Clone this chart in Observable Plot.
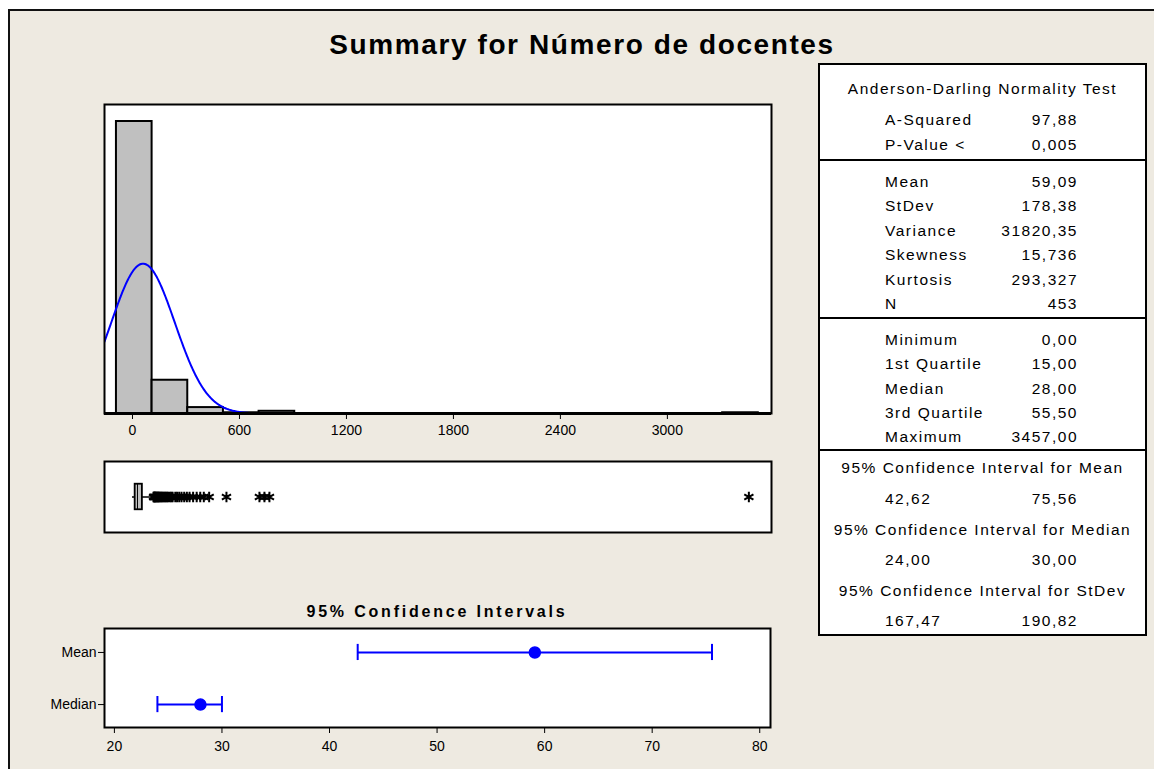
<!DOCTYPE html>
<html><head><meta charset="utf-8">
<script src="https://cdn.jsdelivr.net/npm/d3@7"></script>
<script src="https://cdn.jsdelivr.net/npm/@observablehq/plot@0.6"></script>
<style>
body{margin:0;background:#fff;width:1154px;height:769px;overflow:hidden;position:relative;font-family:"Liberation Sans",Arial,sans-serif;color:#000;}
#page{position:absolute;left:8px;top:9px;width:1146px;height:760px;background:#EEEAE1;border-left:2px solid #111;border-top:2px solid #111;box-sizing:border-box;}
.abs{position:absolute;}
#title{left:0;width:1164px;top:30px;line-height:30px;text-align:center;font-weight:bold;font-size:28px;letter-spacing:1.6px;}
#ciTitle{left:104px;width:666px;top:602px;line-height:20px;text-align:center;font-weight:bold;font-size:16px;letter-spacing:2.8px;}
#table{left:818px;top:63px;width:329px;height:573px;border:2px solid #000;background:#fff;box-sizing:border-box;font-size:15.5px;letter-spacing:1.5px;}
#table div{position:absolute;line-height:20px;white-space:nowrap;}
#table .sep{height:0;border-top:2px solid #000;left:0;right:0;}
</style>
</head><body>
<div id="page"></div>
<div id="title" class="abs">Summary for Número de docentes</div>
<div id="hist" class="abs" style="left:0;top:95px"></div>
<div id="box" class="abs" style="left:0;top:455px"></div>
<div id="ciTitle" class="abs">95% Confidence Intervals</div>
<div id="ci" class="abs" style="left:0;top:590px"></div>
<div id="table" class="abs"></div>
<script>
// ---------- data ----------
const binStart = [-90, 110, 310, 510, 710, 3310];
const binEnd   = [110, 310, 510, 710, 910, 3510];
const binCount = [395, 45, 8, 1, 3, 1];
const histTicks = [0, 600, 1200, 1800, 2400, 3000];

const statN = 453, statMean = 59.09, statSd = 178.38, binWidth = 200;

const boxMin = 0, boxQ1 = 15, boxMedian = 28, boxQ3 = 55.5, boxWhiskerHigh = 115;
const outliers = [118,120,122,125,127,130,133,136,140,143,147,150,155,160,165,170,176,182,188,195,200,210,218,225,240,250,262,275,290,305,320,340,360,380,400,430,527,712,740,768,3457];

const ciRows = ["Mean", "Median"];
const ciCenter = [59.09, 28.00];
const ciLow = [42.62, 24.00];
const ciHigh = [75.56, 30.00];
const ciTicks = [20, 30, 40, 50, 60, 70, 80];

const adLabels = ["A-Squared", "P-Value <"];
const adValues = ["97,88", "0,005"];
const descLabels = ["Mean", "StDev", "Variance", "Skewness", "Kurtosis", "N"];
const descValues = ["59,09", "178,38", "31820,35", "15,736", "293,327", "453"];
const quantLabels = ["Minimum", "1st Quartile", "Median", "3rd Quartile", "Maximum"];
const quantValues = ["0,00", "15,00", "28,00", "55,50", "3457,00"];
const intervalTitles = ["95% Confidence Interval for Mean", "95% Confidence Interval for Median", "95% Confidence Interval for StDev"];
const intervalLow = ["42,62", "24,00", "167,47"];
const intervalHigh = ["75,56", "30,00", "190,82"];

// ---------- histogram ----------
const xDomain = [-157, 3584];
const histTable = binStart.map((s, i) => ({x1: s, x2: binEnd[i], count: binCount[i]}));
const curve = d3.range(-157, 1000, 3).map(x => ({
  x, y: statN * binWidth * Math.exp(-0.5 * ((x - statMean) / statSd) ** 2) / (statSd * Math.sqrt(2 * Math.PI))
}));
const axisStyle = {background: "transparent", fontFamily: "'Liberation Sans', Arial, sans-serif", fontSize: "14px", color: "#000", overflow: "visible"};
const narrowStyle = {background: "transparent", fontFamily: "'Liberation Sans Narrow', 'Arial Narrow', 'Liberation Sans', sans-serif", fontSize: "14px", color: "#000", overflow: "visible"};

document.getElementById("hist").append(Plot.plot({
  width: 800, height: 348,
  marginLeft: 104, marginRight: 29, marginTop: 9, marginBottom: 30,
  style: axisStyle,
  x: {domain: xDomain, ticks: histTicks, tickSize: 6, tickPadding: 6, tickFormat: d => String(d), label: null},
  y: {domain: [0, 418], axis: null},
  marks: [
    Plot.frame({fill: "white", stroke: null}),
    Plot.rectY(histTable, {x1: "x1", x2: "x2", y: "count", fill: "#C0C0C0", stroke: "black", strokeWidth: 2}),
    Plot.line(curve, {x: "x", y: "y", stroke: "#0000FF", strokeWidth: 2, clip: true}),
    Plot.frame({stroke: "black", strokeWidth: 2}),
    Plot.ruleY([0], {stroke: "black", strokeWidth: 3})
  ]
}));

// ---------- boxplot ----------
document.getElementById("box").append(Plot.plot({
  width: 800, height: 85,
  marginLeft: 104, marginRight: 29, marginTop: 6, marginBottom: 8,
  style: axisStyle,
  x: {domain: xDomain, axis: null},
  y: {domain: [-1, 1], axis: null},
  marks: [
    Plot.frame({fill: "white", stroke: null}),
    Plot.ruleY([{a: boxMin, b: boxQ1}, {a: boxQ3, b: boxWhiskerHigh}], {x1: "a", x2: "b", y: 0, stroke: "black", strokeWidth: 1.5}),
    Plot.rect([{a: boxQ1, b: boxQ3}], {x1: "a", x2: "b", y1: -0.36, y2: 0.36, fill: "#C0C0C0", stroke: "black", strokeWidth: 1.8}),
    Plot.ruleX([boxMedian], {y1: -0.36, y2: 0.36, stroke: "black", strokeWidth: 1}),
    Plot.dot(outliers, {x: d => d, y: 0, symbol: "asterisk", r: 5, stroke: "black", strokeWidth: 2}),
    Plot.frame({stroke: "black", strokeWidth: 2})
  ]
}));

// ---------- confidence intervals ----------
const ciTable = ciRows.map((name, i) => ({name, pos: ciRows.length - 1 - i, c: ciCenter[i], lo: ciLow[i], hi: ciHigh[i]}));
document.getElementById("ci").append(Plot.plot({
  width: 800, height: 179,
  marginLeft: 104, marginRight: 30, marginTop: 38, marginBottom: 42,
  style: narrowStyle,
  x: {domain: [19.08, 81], ticks: ciTicks, tickSize: 6, tickPadding: 8, label: null},
  y: {domain: [-0.44, 1.46], ticks: [0, 1], tickSize: 6, tickPadding: 2, tickFormat: p => ciRows[ciRows.length - 1 - p], label: null},
  marks: [
    Plot.frame({fill: "white", stroke: null}),
    Plot.ruleY(ciTable, {x1: "lo", x2: "hi", y: "pos", stroke: "#0000FF", strokeWidth: 2}),
    Plot.ruleX(ciTable, {x: "lo", y1: d => d.pos - 0.155, y2: d => d.pos + 0.155, stroke: "#0000FF", strokeWidth: 2}),
    Plot.ruleX(ciTable, {x: "hi", y1: d => d.pos - 0.155, y2: d => d.pos + 0.155, stroke: "#0000FF", strokeWidth: 2}),
    Plot.dot(ciTable, {x: "c", y: "pos", r: 5.5, fill: "#0000FF", stroke: "#0000FF"}),
    Plot.frame({stroke: "black", strokeWidth: 2})
  ]
}));

// ---------- statistics table ----------
const tbl = document.getElementById("table");
const T0 = 63, LX = 885 - 818 - 2, RX = 1147 - 1078 - 2;
function place(text, y, side, px) {
  const d = document.createElement("div");
  d.textContent = text;
  d.style[side] = px + "px";
  d.style.top = (y - T0 - 12) + "px";
  tbl.append(d);
}
function center(y, text) {
  const d = document.createElement("div");
  d.textContent = text; d.style.left = "0"; d.style.right = "0"; d.style.textAlign = "center";
  d.style.top = (y - T0 - 12) + "px";
  tbl.append(d);
}
function sep(y) {
  const d = document.createElement("div");
  d.className = "sep"; d.style.top = (y - T0 - 3) + "px";
  tbl.append(d);
}
center(89, "Anderson-Darling Normality Test");
adLabels.forEach((l, i) => { place(l, 120 + i * 25, "left", LX); place(adValues[i], 120 + i * 25, "right", RX); });
sep(160);
descLabels.forEach((l, i) => { place(l, 182 + i * 24.4, "left", LX); place(descValues[i], 182 + i * 24.4, "right", RX); });
sep(318);
quantLabels.forEach((l, i) => { place(l, 340 + i * 24.3, "left", LX); place(quantValues[i], 340 + i * 24.3, "right", RX); });
sep(450);
intervalTitles.forEach((t, i) => {
  center(468 + i * 61.5, t);
  const y = 499 + i * 61.2;
  place(intervalLow[i], y, "left", LX);
  place(intervalHigh[i], y, "right", RX);
});
</script>
</body></html>
